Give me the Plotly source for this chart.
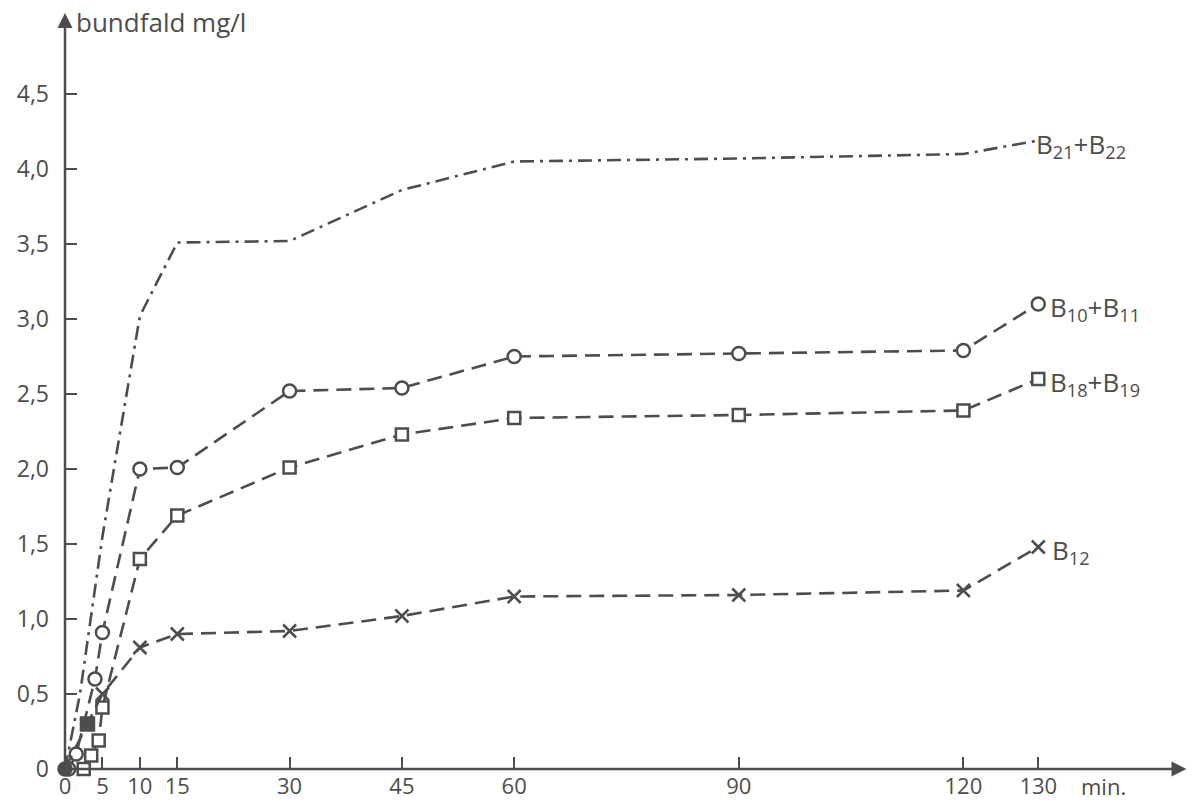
import plotly.graph_objects as go

# ---- data ----
t_b21 = [0, 2, 5, 10, 15, 30, 45, 60, 90, 120, 130]
v_b21 = [0, 0.5, 1.55, 3.02, 3.51, 3.52, 3.86, 4.05, 4.07, 4.10, 4.19]

t_b10 = [0.5, 1.5, 4, 5, 10, 15, 30, 45, 60, 90, 120, 130]
v_b10 = [0.0, 0.10, 0.60, 0.91, 2.00, 2.01, 2.52, 2.54, 2.75, 2.77, 2.79, 3.10]

t_b18 = [2.5, 3.5, 4.5, 5, 10, 15, 30, 45, 60, 90, 120, 130]
v_b18 = [0.0, 0.09, 0.19, 0.41, 1.40, 1.69, 2.01, 2.23, 2.34, 2.36, 2.39, 2.60]

t_b12 = [0, 3, 5, 10, 15, 30, 45, 60, 90, 120, 130]
v_b12 = [0.0, 0.30, 0.50, 0.81, 0.90, 0.92, 1.02, 1.15, 1.16, 1.19, 1.48]

x_ticks = [0, 5, 10, 15, 30, 45, 60, 90, 120, 130]
y_ticks = [0, 0.5, 1.0, 1.5, 2.0, 2.5, 3.0, 3.5, 4.0, 4.5]
y_ticktext = ["0", "0,5", "1,0", "1,5", "2,0", "2,5", "3,0", "3,5", "4,0", "4,5"]

labels = {
    "b21": "B<sub>21</sub>+B<sub>22</sub>",
    "b10": "B<sub>10</sub>+B<sub>11</sub>",
    "b18": "B<sub>18</sub>+B<sub>19</sub>",
    "b12": "B<sub>12</sub>",
}

INK = "#4d4d4d"
FONT = "Open Sans"
DASH = "15px,8px"
DASHDOT = "14px,6px,3px,6px"

fig = go.Figure()

fig.add_trace(go.Scatter(
    x=t_b21, y=v_b21, mode="lines",
    line=dict(color=INK, width=2.6, dash=DASHDOT),
    cliponaxis=False, showlegend=False))

fig.add_trace(go.Scatter(
    x=t_b10, y=v_b10, mode="lines+markers",
    line=dict(color=INK, width=2.6, dash=DASH),
    marker=dict(symbol="circle", size=13, color="white",
                line=dict(color=INK, width=2.5)),
    cliponaxis=False, showlegend=False))

fig.add_trace(go.Scatter(
    x=t_b18, y=v_b18, mode="lines+markers",
    line=dict(color=INK, width=2.6, dash=DASH),
    marker=dict(symbol="square", size=12, color="white",
                line=dict(color=INK, width=2.5)),
    cliponaxis=False, showlegend=False))

b12_symbols = ["circle", "square"] + ["x-thin-open"] * (len(t_b12) - 2)
fig.add_trace(go.Scatter(
    x=t_b12, y=v_b12, mode="lines+markers",
    line=dict(color=INK, width=2.6, dash=DASH),
    marker=dict(symbol=b12_symbols, size=13, color=INK,
                line=dict(color=INK, width=2.5)),
    cliponaxis=False, showlegend=False))

ann = []
# axis arrows
ann.append(dict(x=0, y=5.04, ax=0, ay=0, xref="x", yref="y", axref="x", ayref="y",
                showarrow=True, arrowhead=2, arrowsize=1.2, arrowwidth=2.5,
                arrowcolor=INK, text=""))
ann.append(dict(x=149.8, y=0, ax=0, ay=0, xref="x", yref="y", axref="x", ayref="y",
                showarrow=True, arrowhead=2, arrowsize=1.2, arrowwidth=2.5,
                arrowcolor=INK, text=""))
# axis titles
ann.append(dict(x=1.2, y=4.98, xref="x", yref="y", xanchor="left", yanchor="middle",
                text="bundfald mg/l", showarrow=False,
                font=dict(family=FONT, size=26, color=INK)))
ann.append(dict(x=135.5, y=0, xref="x", yref="y", xanchor="left", yanchor="top",
                yshift=0, text="min.", showarrow=False,
                font=dict(family=FONT, size=22, color=INK)))
# series labels
for key, tx, vy, xs in [("b21", t_b21, v_b21, -4), ("b10", t_b10, v_b10, 10),
                        ("b18", t_b18, v_b18, 10), ("b12", t_b12, v_b12, 12)]:
    ann.append(dict(x=tx[-1], y=vy[-1], xref="x", yref="y", xanchor="left",
                    yanchor="middle", xshift=xs, yshift=-4, text=labels[key],
                    showarrow=False, font=dict(family=FONT, size=26, color=INK)))

fig.update_layout(
    width=1193, height=806,
    margin=dict(l=65, r=5, t=13, b=37, autoexpand=False),
    paper_bgcolor="white", plot_bgcolor="white",
    annotations=ann,
    xaxis=dict(range=[0, 150], tickmode="array", tickvals=x_ticks,
               ticktext=[str(v) for v in x_ticks],
               ticks="inside", ticklen=12, tickwidth=2, tickcolor=INK,
               ticklabelstandoff=2, automargin=False,
               showgrid=False, zeroline=False, showline=False,
               tickfont=dict(family=FONT, size=22, color=INK)),
    yaxis=dict(range=[0, 756 / 150], tickmode="array", tickvals=y_ticks,
               ticktext=y_ticktext,
               ticks="inside", ticklen=12, tickwidth=2, tickcolor=INK,
               ticklabelstandoff=15, automargin=False,
               showgrid=False, zeroline=False, showline=False,
               tickfont=dict(family=FONT, size=23, color=INK)),
)

fig.write_html("out.html")
